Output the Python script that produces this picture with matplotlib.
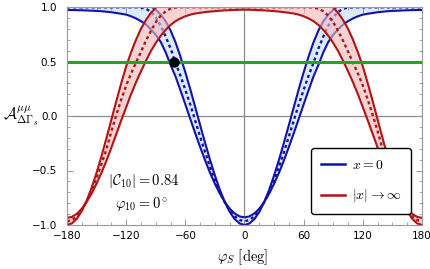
import numpy as np
import matplotlib
matplotlib.use("Agg")
import matplotlib.pyplot as plt
from matplotlib.ticker import MultipleLocator, FixedLocator
from matplotlib.lines import Line2D

plt.rcParams['mathtext.fontset'] = 'cm'

# |phi_S| in degrees (curves are symmetric in phi_S)
abs_phi = [0, 5, 10, 15, 20, 25, 30, 35, 40, 45, 50, 55, 60, 65, 70, 75, 80, 85, 90,
           95, 100, 105, 110, 115, 120, 125, 130, 135, 140, 145, 150, 155, 160, 165,
           170, 175, 180]

# x = 0 (blue): central value (dashed) and the two band edges
blue_mid = [-0.965, -0.954, -0.92, -0.866, -0.791, -0.698, -0.589, -0.465, -0.331,
            -0.188, -0.042, 0.106, 0.24, 0.37, 0.49, 0.62, 0.73, 0.83, 0.905, 0.955,
            0.985, 0.994, 0.997, 0.997, 0.997, 0.997, 0.997, 0.997, 0.997, 0.997,
            0.997, 0.997, 0.997, 0.997, 0.997, 0.997, 0.997]
blue_hi = [-1.0, -0.986, -0.946, -0.88, -0.789, -0.677, -0.546, -0.401, -0.245,
           -0.083, 0.082, 0.246, 0.401, 0.546, 0.677, 0.785, 0.87, 0.93, 0.975, 1.01,
           1.05, 1.09, 1.1, 1.1, 1.1, 1.1, 1.1, 1.1, 1.1, 1.1, 1.1, 1.1, 1.1, 1.1,
           1.1, 1.1, 1.1]
blue_lo = [-0.93, -0.921, -0.894, -0.85, -0.789, -0.712, -0.622, -0.52, -0.406,
           -0.284, -0.157, -0.026, 0.107, 0.237, 0.364, 0.47, 0.585, 0.68, 0.745,
           0.795, 0.84, 0.87, 0.895, 0.915, 0.93, 0.938, 0.945, 0.952, 0.957, 0.961,
           0.964, 0.966, 0.968, 0.97, 0.971, 0.972, 0.972]

# |x| -> infinity (red): central value (dashed) and the two band edges
red_mid = [0.998, 0.998, 0.998, 0.998, 0.998, 0.998, 0.998, 0.998, 0.998, 0.998,
           0.998, 0.998, 0.998, 0.998, 0.995, 0.985, 0.96, 0.92, 0.86, 0.78, 0.69,
           0.59, 0.49, 0.39, 0.28, 0.15, 0.01, -0.14, -0.305, -0.44, -0.57, -0.685,
           -0.782, -0.862, -0.92, -0.955, -0.967]
red_hi = [1.1, 1.1, 1.1, 1.1, 1.1, 1.1, 1.1, 1.1, 1.1, 1.1, 1.1, 1.1, 1.1, 1.1,
          1.1, 1.1, 1.08, 1.04, 0.995, 0.945, 0.88, 0.80, 0.70, 0.585, 0.455, 0.30,
          0.136, -0.034, -0.203, -0.368, -0.52, -0.657, -0.776, -0.872, -0.942,
          -0.985, -1.0]
red_lo = [0.976, 0.975, 0.973, 0.971, 0.969, 0.966, 0.962, 0.958, 0.953, 0.947,
          0.94, 0.93, 0.915, 0.895, 0.87, 0.835, 0.79, 0.735, 0.67, 0.595, 0.505,
          0.41, 0.31, 0.2, 0.08, -0.04, -0.165, -0.29, -0.41, -0.52, -0.62, -0.71,
          -0.787, -0.85, -0.897, -0.925, -0.935]

green_level = 0.5
dot_phi, dot_A = -71, 0.5

xticks = [-180, -120, -60, 0, 60, 120, 180]
xtick_labels = ["\u2212180", "\u2212120", "\u221260", "0", "60", "120", "180"]
yticks = [-1.0, -0.5, 0.0, 0.5, 1.0]
ytick_labels = ["\u22121.0", "\u22120.5", "0.0", "0.5", "1.0"]


def full(vals):
    """Mirror values given for |phi| onto -180..180."""
    v = list(vals)
    return v[:0:-1] + v


phi = [-a for a in abs_phi[:0:-1]] + list(abs_phi)

BLUE = "#1212aa"
RED = "#b01414"

fig = plt.figure(figsize=(4.31, 2.69), dpi=100)
ax = fig.add_axes([67/431, 1-225/269, 355/431, 218/269])

ax.axhline(0, color="#8a8a8a", lw=0.9, zorder=0.5)
ax.axvline(0, color="#8a8a8a", lw=0.9, zorder=0.5)

# blue band (drawn first)
ax.fill_between(phi, full(blue_lo), full(blue_hi), color="#dcebfb", lw=0, zorder=1)
for y in (blue_lo, blue_hi):
    ax.plot(phi, full(y), color=BLUE, lw=1.5, zorder=2)
ax.plot(phi, full(blue_mid), color=BLUE, lw=1.7, ls=(0, (1.3, 1.3)), zorder=2)

# red band on top (semi-transparent fill)
ax.fill_between(phi, full(red_lo), full(red_hi), color="#f2b8b8", alpha=0.62, lw=0,
                zorder=3)
for y in (red_lo, red_hi):
    ax.plot(phi, full(y), color=RED, lw=1.5, zorder=4)
ax.plot(phi, full(red_mid), color=RED, lw=1.7, ls=(0, (1.3, 1.3)), zorder=4)

ax.axhline(green_level, color="#1aaa1a", lw=2.2, zorder=5)
ax.plot([dot_phi], [dot_A], 'o', color='black', ms=6.5, zorder=6)

ax.set_xlim(-180, 180)
ax.set_ylim(-1, 1)
ax.xaxis.set_major_locator(FixedLocator(xticks))
ax.set_xticklabels(xtick_labels)
ax.yaxis.set_major_locator(FixedLocator(yticks))
ax.set_yticklabels(ytick_labels)
ax.xaxis.set_minor_locator(MultipleLocator(15))
ax.yaxis.set_minor_locator(MultipleLocator(0.1))
ax.tick_params(which='both', direction='in', top=True, right=True,
               color='#999999', labelsize=7.5)
ax.tick_params(axis='y', pad=7)
ax.tick_params(axis='x', pad=4)
ax.tick_params(which='major', length=4, width=0.7)
ax.tick_params(which='minor', length=2.2, width=0.6)
for s in ax.spines.values():
    s.set_color('#999999')
    s.set_linewidth(0.8)
    s.set_zorder(7)

fig.text(3/431, 1-116/269, r"$\mathcal{A}_{\Delta\Gamma_s}^{\mu\mu}$", fontsize=11.5,
         va='center', ha='left')
fig.text(243/431, 1-257/269, r"$\varphi_S\ [\mathrm{deg}]$", fontsize=10.5,
         va='center', ha='center')

ax.text(-102, -0.60, r"$|\mathcal{C}_{10}| = 0.84$", fontsize=10.5,
        ha='center', va='center')
ax.text(-104, -0.81, r"$\varphi_{10} = 0^\circ$", fontsize=10.5, ha='center',
        va='center')

handles = [Line2D([], [], color=BLUE, lw=1.8), Line2D([], [], color=RED, lw=1.8)]
leg = ax.legend(handles, [r"$x = 0$", r"$|x| \to \infty$"], loc='lower right',
                bbox_to_anchor=(0.969, 0.05), borderaxespad=0, fontsize=10,
                frameon=True, fancybox=True, framealpha=1, edgecolor='black',
                handlelength=1.75, handletextpad=0.5, borderpad=0.7,
                labelspacing=1.1)
leg.get_frame().set_linewidth(1.0)
leg.set_zorder(10)

fig.savefig("out.png", dpi=100)
